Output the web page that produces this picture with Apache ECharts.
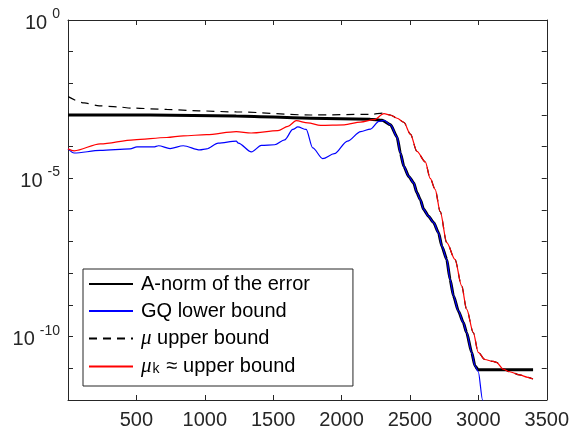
<!DOCTYPE html>
<html>
<head>
<meta charset="utf-8">
<script src="https://cdn.jsdelivr.net/npm/echarts@6/dist/echarts.min.js"></script>
<style>
  html, body { margin: 0; padding: 0; background: #fff; }
  #chart { width: 572px; height: 430px; }
</style>
</head>
<body>
<div id="chart"></div>
<script>
// A-norm of the error
const itNorm = [0, 600, 1230, 1775, 2210, 2297, 2358, 2406, 2430, 2455, 2491, 2527, 2551, 2576, 2600, 2636, 2673, 2709, 2733, 2769, 2793, 2818, 2854, 2890, 2914, 2951, 2975, 2999, 3010, 3400]
const errNorm = [1.0e-3, 1.0e-3, 9.3e-4, 7.9e-4, 7.4e-4, 6.8e-4, 4.9e-4, 2.0e-4, 6.3e-5, 2.4e-5, 1.15e-5, 7.2e-6, 3.5e-6, 2.1e-6, 1.05e-6, 6.3e-7, 4.0e-7, 1.9e-7, 7.2e-8, 2.75e-8, 6.5e-9, 1.95e-9, 6.5e-10, 2.8e-10, 1.35e-10, 3.2e-11, 1.2e-11, 9.0e-12, 9.0e-12, 9.0e-12]

// GQ lower bound
const itGQ = [0, 45, 236, 454, 504, 626, 662, 746, 843, 964, 1013, 1098, 1230, 1245, 1341, 1414, 1511, 1584, 1644, 1680, 1741, 1789, 1862, 1947, 2043, 2140, 2212, 2273, 2310, 2358, 2406, 2430, 2455, 2491, 2527, 2551, 2576, 2600, 2636, 2673, 2709, 2733, 2769, 2793, 2818, 2854, 2890, 2914, 2951, 2975, 2999, 3031, 3060]
const gqLower = [8.5e-5, 6.3e-5, 7.6e-5, 8.5e-5, 9.8e-5, 9.8e-5, 1.07e-4, 8.7e-5, 1.07e-4, 7.9e-5, 8.5e-5, 1.3e-4, 1.5e-4, 1.3e-4, 6.8e-5, 1.1e-4, 1.15e-4, 1.65e-4, 3.5e-4, 4.2e-4, 3.5e-4, 9.1e-5, 4.2e-5, 6.0e-5, 1.5e-4, 3.0e-4, 3.6e-4, 6.3e-4, 6.8e-4, 4.9e-4, 2.0e-4, 6.3e-5, 2.4e-5, 1.15e-5, 7.2e-6, 3.5e-6, 2.1e-6, 1.05e-6, 6.3e-7, 4.0e-7, 1.9e-7, 7.2e-8, 2.75e-8, 6.5e-9, 1.95e-9, 6.5e-10, 2.8e-10, 1.35e-10, 3.2e-11, 1.2e-11, 7.9e-12, 1.0e-12, 1.25e-13]

// mu upper bound
const itMu = [1, 118, 229, 359, 468, 722, 955, 1230, 1775, 2210, 2310, 2356, 2406, 2455, 2503, 2551, 2612, 2648, 2684, 2721, 2769, 2829, 2878, 2914, 2963, 2999, 3047, 3108, 3132, 3181, 3229, 3301, 3362, 3399]
const muUpper = [3.8e-3, 2.4e-3, 1.95e-3, 1.8e-3, 1.65e-3, 1.5e-3, 1.35e-3, 1.25e-3, 1.0e-3, 1.05e-3, 1.15e-3, 1.0e-3, 7.9e-4, 5.9e-4, 2.5e-4, 7.1e-5, 3.3e-5, 1.0e-5, 4.5e-6, 8.9e-7, 9.3e-8, 2.75e-8, 4.0e-9, 7.4e-10, 1.35e-10, 3.2e-11, 1.9e-11, 1.65e-11, 1.55e-11, 9.5e-12, 7.8e-12, 6.2e-12, 5.2e-12, 4.6e-12]

// mu_k approx upper bound
const itMuK = [0, 45, 236, 481, 722, 843, 1013, 1230, 1339, 1535, 1608, 1668, 1753, 1847, 2019, 2138, 2237, 2310, 2356, 2406, 2455, 2503, 2551, 2612, 2648, 2684, 2721, 2769, 2829, 2878, 2914, 2963, 2999, 3047, 3108, 3132, 3181, 3229, 3301, 3362, 3399]
const muKUpper = [8.5e-5, 7.4e-5, 1.23e-4, 1.65e-4, 1.95e-4, 2.2e-4, 2.4e-4, 3.0e-4, 2.7e-4, 3.2e-4, 4.4e-4, 6.6e-4, 5.6e-4, 4.7e-4, 4.9e-4, 6.0e-4, 7.1e-4, 1.1e-3, 1.0e-3, 7.9e-4, 5.9e-4, 2.5e-4, 7.1e-5, 3.3e-5, 1.0e-5, 4.5e-6, 8.9e-7, 9.3e-8, 2.75e-8, 4.0e-9, 7.4e-10, 1.35e-10, 3.2e-11, 1.9e-11, 1.65e-11, 1.55e-11, 9.5e-12, 7.8e-12, 6.2e-12, 5.2e-12, 4.6e-12]

const xTicks = [0, 3500, 500] // min, max, step
const yTicks = [1e-12, 1e-11, 1e-10, 1e-9, 1e-8, 1e-7, 1e-6, 1e-5, 1e-4, 1e-3, 1e-2, 1e-1, 1]
const yLabels = [1e-10, 1e-5, 1]

const font = 'Liberation Sans'
const ink = '#262626'

function pairs (xs, ys) {
  return xs.map((x, i) => [x, ys[i]])
}

const chart = echarts.init(document.getElementById('chart'))

const xBase = {
  type: 'value',
  min: xTicks[0],
  max: xTicks[1],
  interval: xTicks[2],
  splitLine: { show: false },
  axisLine: { onZero: false, lineStyle: { color: ink, width: 1 } },
  axisTick: { inside: true, length: 5, lineStyle: { color: ink } }
}
const yBase = {
  type: 'log',
  logBase: 10,
  min: yTicks[0],
  max: yTicks[yTicks.length - 1],
  splitLine: { show: false },
  axisLine: { show: true, onZero: false, lineStyle: { color: ink, width: 1 } },
  axisTick: { show: true, inside: true, length: 5, customValues: yTicks, lineStyle: { color: ink } }
}

chart.setOption({
  animation: false,
  backgroundColor: '#fff',
  grid: { left: 68, right: 21, top: 20, bottom: 29 },
  xAxis: [
    Object.assign({}, xBase, {
      position: 'bottom',
      axisLabel: {
        margin: 10,
        fontFamily: font,
        fontSize: 20,
        color: ink,
        formatter: v => (v === 0 ? '' : String(v))
      }
    }),
    Object.assign({}, xBase, { position: 'top', axisLabel: { show: false } })
  ],
  yAxis: [
    Object.assign({}, yBase, {
      position: 'left',
      axisLabel: {
        margin: 8,
        color: ink,
        customValues: yLabels,
        formatter: v => '{b|10}{s|' + Math.round(Math.log10(v)) + '}',
        rich: {
          b: { fontFamily: font, fontSize: 20, color: ink, lineHeight: 26, verticalAlign: 'bottom' },
          s: { fontFamily: font, fontSize: 14, color: ink, lineHeight: 14, verticalAlign: 'top', padding: [0, 0, 0, 5] }
        }
      }
    }),
    Object.assign({}, yBase, { position: 'right', axisLabel: { show: false } })
  ],
  legend: {
    orient: 'vertical',
    left: 83,
    top: 269,
    padding: [5, 43, 9, 5],
    itemGap: 7,
    itemWidth: 44,
    itemHeight: 20,
    backgroundColor: '#fff',
    borderColor: ink,
    borderWidth: 1,
    borderRadius: 0,
    itemStyle: { opacity: 0 },
    textStyle: {
      fontFamily: font,
      fontSize: 20,
      color: '#000',
      lineHeight: 20,
      padding: [0, 0, 0, 3],
      rich: {
        i: { fontFamily: 'Liberation Serif', fontStyle: 'italic', fontSize: 21, color: '#000', lineHeight: 20 },
        k: { fontFamily: font, fontSize: 14, color: '#000', lineHeight: 20, verticalAlign: 'bottom', padding: [0, 7, 0, 1] },
        t: { fontFamily: font, fontSize: 20, color: '#000', lineHeight: 20 }
      }
    },
    formatter: name => {
      if (name === 'μ upper bound') return '{i|μ}{t| upper bound}'
      if (name === 'μk ≈ upper bound') return '{i|μ}{k|k}{t|≈ upper bound}'
      return name
    },
    data: ['A-norm of the error', 'GQ lower bound', 'μ upper bound', 'μk ≈ upper bound']
  },
  series: [
    {
      name: 'A-norm of the error',
      type: 'line',
      symbol: 'none',
      smooth: 0.2,
      smoothMonotone: 'x',
      data: pairs(itNorm, errNorm),
      lineStyle: { color: '#000', width: 3 },
      itemStyle: { color: '#000' }
    },
    {
      name: 'GQ lower bound',
      type: 'line',
      symbol: 'none',
      smooth: 0.3,
      smoothMonotone: 'x',
      data: pairs(itGQ, gqLower),
      lineStyle: { color: '#0000ff', width: 1.2 },
      itemStyle: { color: '#0000ff' }
    },
    {
      name: 'μ upper bound',
      type: 'line',
      symbol: 'none',
      smooth: 0.3,
      smoothMonotone: 'x',
      data: pairs(itMu, muUpper),
      lineStyle: { color: '#000', width: 1.2, type: [8, 6] },
      itemStyle: { color: '#000' }
    },
    {
      name: 'μk ≈ upper bound',
      type: 'line',
      symbol: 'none',
      smooth: 0.3,
      smoothMonotone: 'x',
      data: pairs(itMuK, muKUpper),
      lineStyle: { color: '#ff0000', width: 1.2 },
      itemStyle: { color: '#ff0000' }
    }
  ]
})
</script>
</body>
</html>
